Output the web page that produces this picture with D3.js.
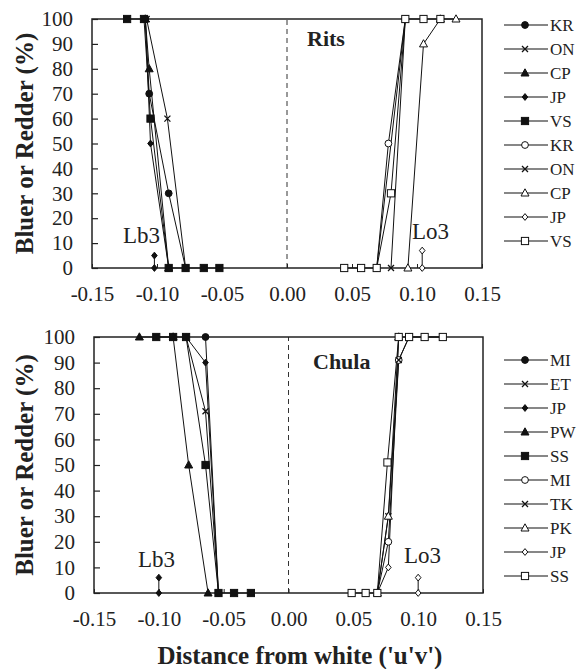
<!DOCTYPE html>
<html>
<head>
<meta charset="utf-8">
<script src="https://cdn.jsdelivr.net/npm/d3@7"></script>
<style>
  body { margin: 0; background: #fff; }
  svg text { font-family: "Liberation Serif", "Times New Roman", serif; fill: #222; }
</style>
</head>
<body>
<svg id="chart"></svg>
<script>
let svgWidth = 581, svgHeight = 669

// tick values
const xTicks = [-0.15, -0.10, -0.05, 0, 0.05, 0.10, 0.15]
const yTicks = [0, 10, 20, 30, 40, 50, 60, 70, 80, 90, 100]

// Rits panel: [distance, %]
const ritsBlueKR = [[-0.109, 100], [-0.106, 70], [-0.091, 30], [-0.078, 0]]
const ritsBlueON = [[-0.108, 100], [-0.092, 60], [-0.078, 0]]
const ritsBlueCP = [[-0.109, 100], [-0.106, 80], [-0.091, 0]]
const ritsBlueJP = [[-0.109, 100], [-0.105, 50], [-0.091, 0]]
const ritsBlueVS = [[-0.123, 100], [-0.110, 100], [-0.105, 60], [-0.091, 0], [-0.078, 0], [-0.064, 0], [-0.052, 0]]
const ritsRedKR = [[0.069, 0], [0.078, 50], [0.091, 100]]
const ritsRedON = [[0.080, 0], [0.091, 100]]
const ritsRedCP = [[0.093, 0], [0.105, 90], [0.118, 100], [0.130, 100]]
const ritsRedJP = [[0.069, 0], [0.091, 100]]
const ritsRedVS = [[0.044, 0], [0.057, 0], [0.069, 0], [0.080, 30], [0.091, 100], [0.105, 100], [0.118, 100]]
const ritsLb3 = [[-0.102, 0], [-0.102, 5]]
const ritsLo3 = [[0.104, 0], [0.104, 7]]
const ritsNames = ['KR', 'ON', 'CP', 'JP', 'VS', 'KR', 'ON', 'CP', 'JP', 'VS']
const ritsMarkers = ['circle', 'cross', 'triangle', 'diamond', 'square', 'circle', 'cross', 'triangle', 'diamond', 'square']

// Chula panel
const chulaBlueMI = [[-0.064, 100], [-0.054, 0]]
const chulaBlueET = [[-0.079, 100], [-0.064, 71], [-0.054, 0]]
const chulaBlueJP = [[-0.079, 100], [-0.064, 90], [-0.054, 0]]
const chulaBluePW = [[-0.115, 100], [-0.089, 100], [-0.077, 50], [-0.062, 0]]
const chulaBlueSS = [[-0.102, 100], [-0.089, 100], [-0.079, 100], [-0.064, 50], [-0.054, 0], [-0.042, 0], [-0.029, 0]]
const chulaRedMI = [[0.0685, 0], [0.077, 20], [0.085, 91], [0.093, 100]]
const chulaRedTK = [[0.0685, 0], [0.077, 30], [0.085, 91], [0.093, 100], [0.119, 100]]
const chulaRedPK = [[0.0685, 0], [0.077, 30], [0.085, 100]]
const chulaRedJP = [[0.0685, 0], [0.077, 10], [0.085, 100]]
const chulaRedSS = [[0.0487, 0], [0.0595, 0], [0.0685, 0], [0.0763, 51], [0.085, 100], [0.093, 100], [0.105, 100], [0.119, 100]]
const chulaLb3 = [[-0.100, 0], [-0.100, 6]]
const chulaLo3 = [[0.100, 0], [0.100, 6]]
const chulaNames = ['MI', 'ET', 'JP', 'PW', 'SS', 'MI', 'TK', 'PK', 'JP', 'SS']
const chulaMarkers = ['circle', 'cross', 'diamond', 'triangle', 'square', 'circle', 'cross', 'triangle', 'diamond', 'square']

// first five series filled (bluer side), last five open (redder side)
const markerFilled = [true, true, true, true, true, false, false, false, false, false]

let svg = d3.select('#chart').attr('width', svgWidth).attr('height', svgHeight)

function drawMarker(g, kind, filled, x, y){
  let fill = filled ? '#111' : '#fff'
  if(kind == 'circle'){
    g.append('circle').attr('cx', x).attr('cy', y).attr('r', 3.4)
      .attr('fill', fill).attr('stroke', '#111').attr('stroke-width', 1)
  } else if(kind == 'square'){
    g.append('rect').attr('x', x - 3.6).attr('y', y - 3.6).attr('width', 7.2).attr('height', 7.2)
      .attr('fill', fill).attr('stroke', '#111').attr('stroke-width', 1)
  } else if(kind == 'triangle'){
    g.append('path').attr('d', `M${x},${y - 4.2}L${x + 4},${y + 3}L${x - 4},${y + 3}Z`)
      .attr('fill', fill).attr('stroke', '#111').attr('stroke-width', 1)
  } else if(kind == 'diamond'){
    g.append('path').attr('d', `M${x},${y - 3.4}L${x + 2.8},${y}L${x},${y + 3.4}L${x - 2.8},${y}Z`)
      .attr('fill', fill).attr('stroke', '#111').attr('stroke-width', 1)
  } else if(kind == 'cross'){
    g.append('path').attr('d', `M${x - 3},${y - 3}L${x + 3},${y + 3}M${x - 3},${y + 3}L${x + 3},${y - 3}`)
      .attr('fill', 'none').attr('stroke', '#111').attr('stroke-width', 1.3)
  }
}

function makePanel(opt){
  let x = d3.scaleLinear().domain([-0.15, 0.15]).range([opt.left, opt.right])
  let y = d3.scaleLinear().domain([0, 100]).range([opt.bottom, opt.top])
  let g = svg.append('g')

  // dashed line at zero
  g.append('line')
    .attr('x1', x(0)).attr('x2', x(0)).attr('y1', y(0)).attr('y2', y(100))
    .attr('stroke', '#333').attr('stroke-width', 1).attr('stroke-dasharray', '5,4')

  let yAxis = d3.axisLeft(y).tickValues(yTicks).tickSizeInner(-6).tickSizeOuter(0).tickPadding(19)
  g.append('g').attr('transform', `translate(${opt.left},0)`).call(yAxis)
    .call(a => a.select('.domain').remove())
    .call(a => a.selectAll('text').style('font-size', '21px').attr('fill', '#222'))
    .call(a => a.selectAll('line').attr('stroke', '#222').attr('stroke-width', 1.2))

  let xAxis = d3.axisBottom(x).tickValues(xTicks).tickSizeInner(-4).tickSizeOuter(0).tickPadding(18)
    .tickFormat(d => d.toFixed(2))
  g.append('g').attr('transform', `translate(0,${opt.bottom})`).call(xAxis)
    .call(a => a.select('.domain').remove())
    .call(a => a.selectAll('text').style('font-size', '21px').attr('fill', '#222'))
    .call(a => a.selectAll('line').attr('stroke', '#222'))

  // frame
  g.append('rect')
    .attr('x', opt.left).attr('y', opt.top)
    .attr('width', opt.right - opt.left).attr('height', opt.bottom - opt.top)
    .attr('fill', 'none').attr('stroke', '#222').attr('stroke-width', 1.5)

  let line = d3.line().x(d => x(d[0])).y(d => y(d[1]))

  // threshold markers (Lb3 / Lo3)
  ;[[opt.lb3, true], [opt.lo3, false]].forEach(([data, filled]) => {
    g.append('path').attr('d', line(data)).attr('fill', 'none').attr('stroke', '#111').attr('stroke-width', 1)
    data.forEach(d => drawMarker(g, 'diamond', filled, x(d[0]), y(d[1])))
  })

  opt.series.forEach(data => {
    g.append('path').attr('d', line(data))
      .attr('fill', 'none').attr('stroke', '#111').attr('stroke-width', 1)
  })
  opt.series.forEach((data, i) => {
    data.forEach(d => drawMarker(g, opt.markers[i], markerFilled[i], x(d[0]), y(d[1])))
  })

  // panel title and Lb3/Lo3 labels
  g.append('text').attr('x', opt.titlePos[0]).attr('y', opt.titlePos[1])
    .style('font-size', '22px').style('font-weight', 'bold').text(opt.title)
  g.append('text').attr('x', opt.lbPos[0]).attr('y', opt.lbPos[1]).style('font-size', '23px').text('Lb3')
  g.append('text').attr('x', opt.loPos[0]).attr('y', opt.loPos[1]).style('font-size', '23px').text('Lo3')

  // y title
  g.append('text')
    .attr('transform', `translate(33,${(opt.top + opt.bottom) / 2}) rotate(-90)`)
    .attr('text-anchor', 'middle')
    .style('font-size', '25px').style('font-weight', 'bold')
    .text('Bluer or Redder (%)')

  // legend
  let leg = svg.append('g')
  opt.names.forEach((n, i) => {
    let ly = opt.legY + i * opt.legStep
    leg.append('line').attr('x1', 504).attr('x2', 548).attr('y1', ly).attr('y2', ly)
      .attr('stroke', '#111').attr('stroke-width', 1.2)
    drawMarker(leg, opt.markers[i], markerFilled[i], 525, ly)
    leg.append('text').attr('x', 550).attr('y', ly).attr('dy', '0.36em')
      .style('font-size', '17px').text(n)
  })
}

makePanel({
  left: 92, right: 482, top: 19, bottom: 268,
  series: [ritsBlueKR, ritsBlueON, ritsBlueCP, ritsBlueJP, ritsBlueVS,
           ritsRedKR, ritsRedON, ritsRedCP, ritsRedJP, ritsRedVS],
  markers: ritsMarkers,
  lb3: ritsLb3, lo3: ritsLo3, names: ritsNames,
  title: 'Rits', titlePos: [307, 46], lbPos: [123, 243], loPos: [412, 239],
  legY: 25, legStep: 24
})

makePanel({
  left: 94, right: 483, top: 337, bottom: 593,
  series: [chulaBlueMI, chulaBlueET, chulaBlueJP, chulaBluePW, chulaBlueSS,
           chulaRedMI, chulaRedTK, chulaRedPK, chulaRedJP, chulaRedSS],
  markers: chulaMarkers,
  lb3: chulaLb3, lo3: chulaLo3, names: chulaNames,
  title: 'Chula', titlePos: [313, 369], lbPos: [138, 567], loPos: [404, 563],
  legY: 360, legStep: 24
})

svg.append('text')
  .attr('x', 300).attr('y', 664).attr('text-anchor', 'middle')
  .style('font-size', '25px').style('font-weight', 'bold')
  .text("Distance from white ('u'v')")
</script>
</body>
</html>
